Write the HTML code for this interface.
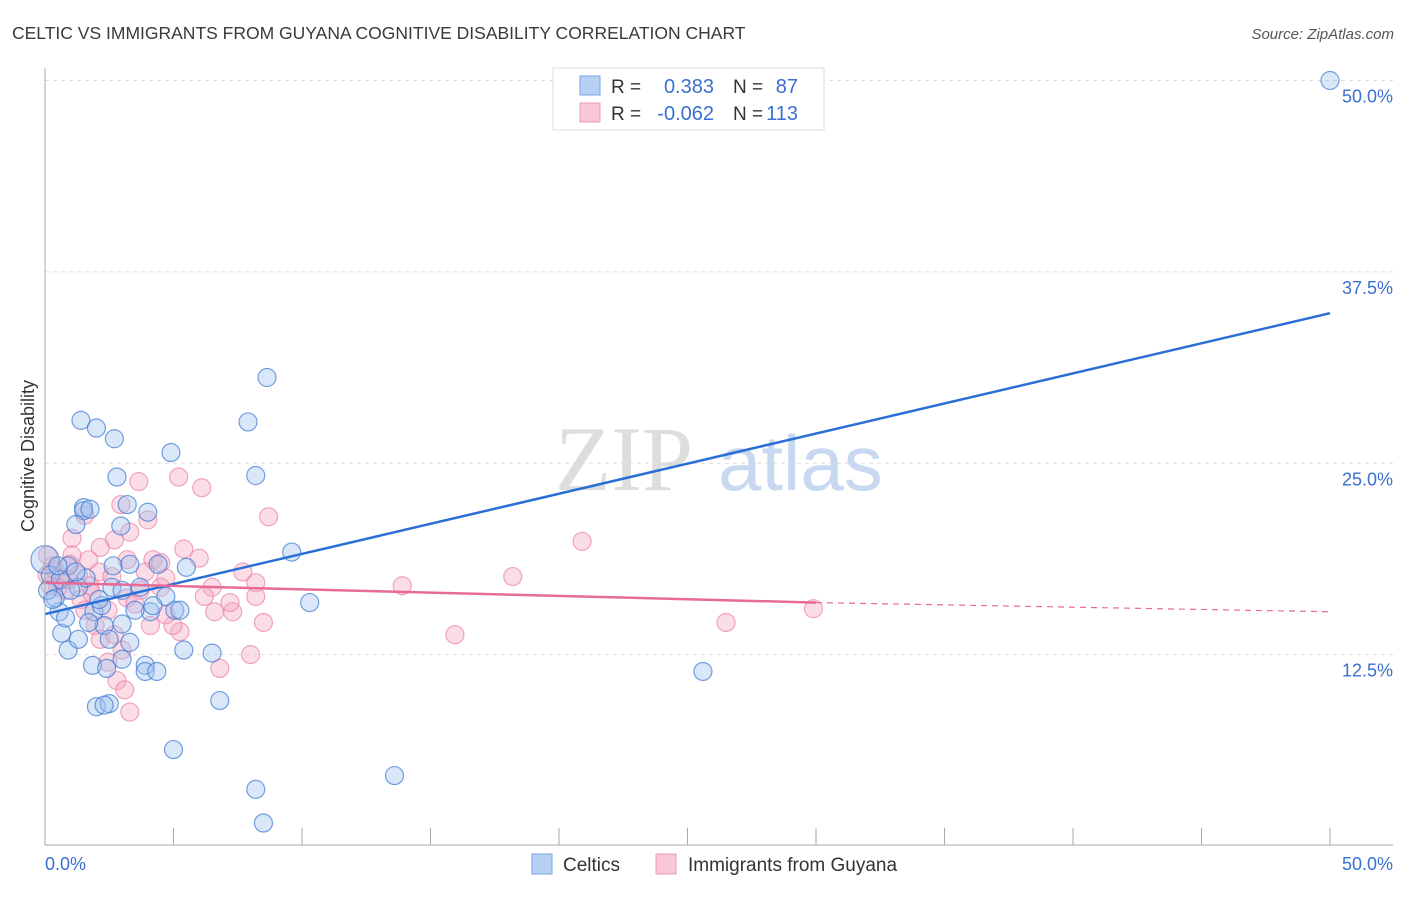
<!DOCTYPE html>
<html><head><meta charset="utf-8"><style>
body{margin:0;background:#fff;font-family:"Liberation Sans",sans-serif;}
</style></head><body>
<svg width="1406" height="892" viewBox="0 0 1406 892" xmlns="http://www.w3.org/2000/svg">
<text x="12" y="39" font-size="17.5" fill="#3a3a3a">CELTIC VS IMMIGRANTS FROM GUYANA COGNITIVE DISABILITY CORRELATION CHART</text>
<text x="1394" y="39" font-size="15" fill="#555" font-style="italic" text-anchor="end">Source: ZipAtlas.com</text>
<g id="grid"></g>
<g><text x="555" y="490" font-size="92" fill="#ddd" font-family="Liberation Serif,serif">ZIP</text><text x="718" y="490" font-size="78" fill="#c8d8f0">atlas</text></g>
<g id="pts"></g>
<g id="lines"></g>
<line x1="45" y1="68" x2="45" y2="845" stroke="#aaa"/>
<line x1="45" y1="845" x2="1393" y2="845" stroke="#aaa"/>
<text x="34" y="456" font-size="18" fill="#333" transform="rotate(-90 34 456)" text-anchor="middle">Cognitive Disability</text>
<text x="45" y="870" font-size="18" fill="#3a70d0">0.0%</text>
<text x="1393" y="870" font-size="18" fill="#3a70d0" text-anchor="end">50.0%</text>
<g>
<rect x="553" y="68" width="271" height="62" fill="#fff" stroke="#ddd"/>
<rect x="580" y="76" width="20" height="19" fill="#b8d0f4" stroke="#7aa5e6"/>
<rect x="580" y="103" width="20" height="19" fill="#f8c8d6" stroke="#ee9ab4"/>
<text x="611" y="93" font-size="19" fill="#333">R =</text><text x="714" y="93" font-size="20" fill="#3a70d0" text-anchor="end">0.383</text>
<text x="733" y="93" font-size="19" fill="#333">N =</text><text x="798" y="93" font-size="20" fill="#3a70d0" text-anchor="end">87</text>
<text x="611" y="120" font-size="19" fill="#333">R =</text><text x="714" y="120" font-size="20" fill="#3a70d0" text-anchor="end">-0.062</text>
<text x="733" y="120" font-size="19" fill="#333">N =</text><text x="798" y="120" font-size="20" fill="#3a70d0" text-anchor="end">113</text>
</g>
<g>
<rect x="532" y="854" width="20" height="20" fill="#b8d0f4" stroke="#7aa5e6"/>
<text x="563" y="871" font-size="19" fill="#333">Celtics</text>
<rect x="656" y="854" width="20" height="20" fill="#f8c8d6" stroke="#ee9ab4"/>
<text x="688" y="871" font-size="19" fill="#333">Immigrants from Guyana</text>
</g>
</svg>
<script>
const yTicks=[12.5,25,37.5,50];
const yTickLabels=["12.5%","25.0%","37.5%","50.0%"];
const xTicks=[0,5,10,15,20,25,30,35,40,45,50];
const blueX=[50,8.64,1.4,2.0,2.7,4.9,7.9,8.2,2.8,1.5,1.5,1.75,3.2,4.0,1.2,2.95,9.6,5.5,2.65,3.3,4.4,0.9,0,25.6,10.3,13.6,8.2,8.5,5.0,6.8,2.0,2.5,2.3,3.0,1.85,2.4,3.9,3.9,4.35,3.3,5.4,6.5,0.9,0.65,1.3,2.3,3.0,4.1,5.05,4.7,0.55,0.8,1.9,2.2,0.4,1.3,1.6,2.6,3.0,3.7,4.2,0.2,0.6,1.0,0.1,0.3,2.1,0.5,1.2,5.25,3.5,1.7,2.5];
const blueY=[50,30.6,27.8,27.3,26.6,25.7,27.7,24.2,24.1,22.1,21.9,22.0,22.3,21.8,21.0,20.9,19.2,18.2,18.3,18.4,18.4,18.3,18.7,11.4,15.9,4.6,3.7,1.5,6.3,9.5,9.1,9.3,9.2,12.2,11.8,11.6,11.8,11.4,11.4,13.3,12.8,12.6,12.8,13.9,13.5,14.4,14.5,15.3,15.4,16.3,15.3,14.9,15.3,15.7,16.2,16.9,17.5,16.9,16.7,16.9,15.7,17.7,17.4,16.7,16.7,16.1,16.1,18.3,17.9,15.4,15.4,14.6,13.5];
const pinkX=[5.2,6.1,3.65,2.95,8.7,4.0,1.55,20.9,18.2,13.9,15.95,26.5,29.9,5.4,3.3,2.7,2.15,1.05,4.2,4.5,6.0,7.7,8.2,8.2,6.5,6.2,6.6,7.3,7.2,8.5,8.0,6.8,5.25,4.98,4.7,4.5,4.7,3.7,3.2,3.5,3.2,2.1,1.7,1.05,0.97,0.6,0.2,0.08,0.3,0.8,1.4,1.55,1.95,2.15,2.45,2.8,3.1,3.3,3.0,2.7,4.1,2.45,1.75,2.6,3.9,0.4,0.1,0.9,1.3,0.5,1.83];
const pinkY=[24.1,23.4,23.8,22.3,21.5,21.3,21.6,19.9,17.6,17.0,13.8,14.6,15.5,19.4,20.5,20.0,19.5,20.1,18.7,18.5,18.8,17.9,17.2,16.3,16.9,16.3,15.3,15.3,15.9,14.6,12.5,11.6,14.0,14.4,15.1,16.9,17.5,16.7,16.2,15.8,18.7,17.9,18.7,19.0,18.4,17.5,17.0,17.7,18.3,16.7,16.1,15.4,14.4,13.5,12.0,10.8,10.2,8.75,12.8,13.8,14.4,15.4,17.0,17.6,17.9,18.0,19.0,17.4,17.7,16.9,16.5];
const blueLine=[[0,15.15],[50,34.8]];
const pinkLine=[[0,17.2],[30,15.9]];
const pinkDash=[[30,15.9],[50,15.3]];
const NS="http://www.w3.org/2000/svg";
const sx=v=>45+v*25.7, sy=v=>846-v*15.31;
function mk(t,a,p){const e=document.createElementNS(NS,t);for(const k in a)e.setAttribute(k,a[k]);p.appendChild(e);return e;}
const grid=document.getElementById('grid');
yTicks.forEach((t,i)=>{
 const l=mk('line',{x1:45,x2:1393,y1:sy(t),y2:sy(t),stroke:'#ddd','stroke-dasharray':'4,4'},grid);
 
 
 const tx=mk('text',{x:1393,y:sy(t)+22,'font-size':18,fill:'#3a70d0','text-anchor':'end'},grid);
 tx.textContent=yTickLabels[i];
 
 
});
xTicks.forEach(t=>{
 const l=mk('line',{x1:sx(t),x2:sx(t),y1:828,y2:845,stroke:'#aaa'},grid);
 
 
});
const pts=document.getElementById('pts');
pinkX.forEach((x,i)=>{
 const c=mk('circle',{cx:sx(x),cy:sy(pinkY[i]),r:9,fill:'rgba(246,170,195,0.4)',stroke:'rgba(236,130,165,0.7)','stroke-width':1.2},pts);
 
 
});
blueX.forEach((x,i)=>{
 const c=mk('circle',{cx:sx(x),cy:sy(blueY[i]),r:(x===0?14:9),fill:'rgba(160,195,240,0.4)',stroke:'rgba(60,120,210,0.7)','stroke-width':1.2},pts);
 
 
});
const lines=document.getElementById('lines');
const bl=mk('line',{x1:sx(blueLine[0][0]),y1:sy(blueLine[0][1]),x2:sx(blueLine[1][0]),y2:sy(blueLine[1][1]),stroke:'#2a6fd6','stroke-width':2.5},lines);


const pl=mk('line',{x1:sx(pinkLine[0][0]),y1:sy(pinkLine[0][1]),x2:sx(pinkLine[1][0]),y2:sy(pinkLine[1][1]),stroke:'#e86a96','stroke-width':2.5},lines);


const pd=mk('line',{x1:sx(pinkDash[0][0]),y1:sy(pinkDash[0][1]),x2:sx(pinkDash[1][0]),y2:sy(pinkDash[1][1]),stroke:'#e86a96','stroke-width':1.2,'stroke-dasharray':'6,5'},lines);


</script>
</body></html>
